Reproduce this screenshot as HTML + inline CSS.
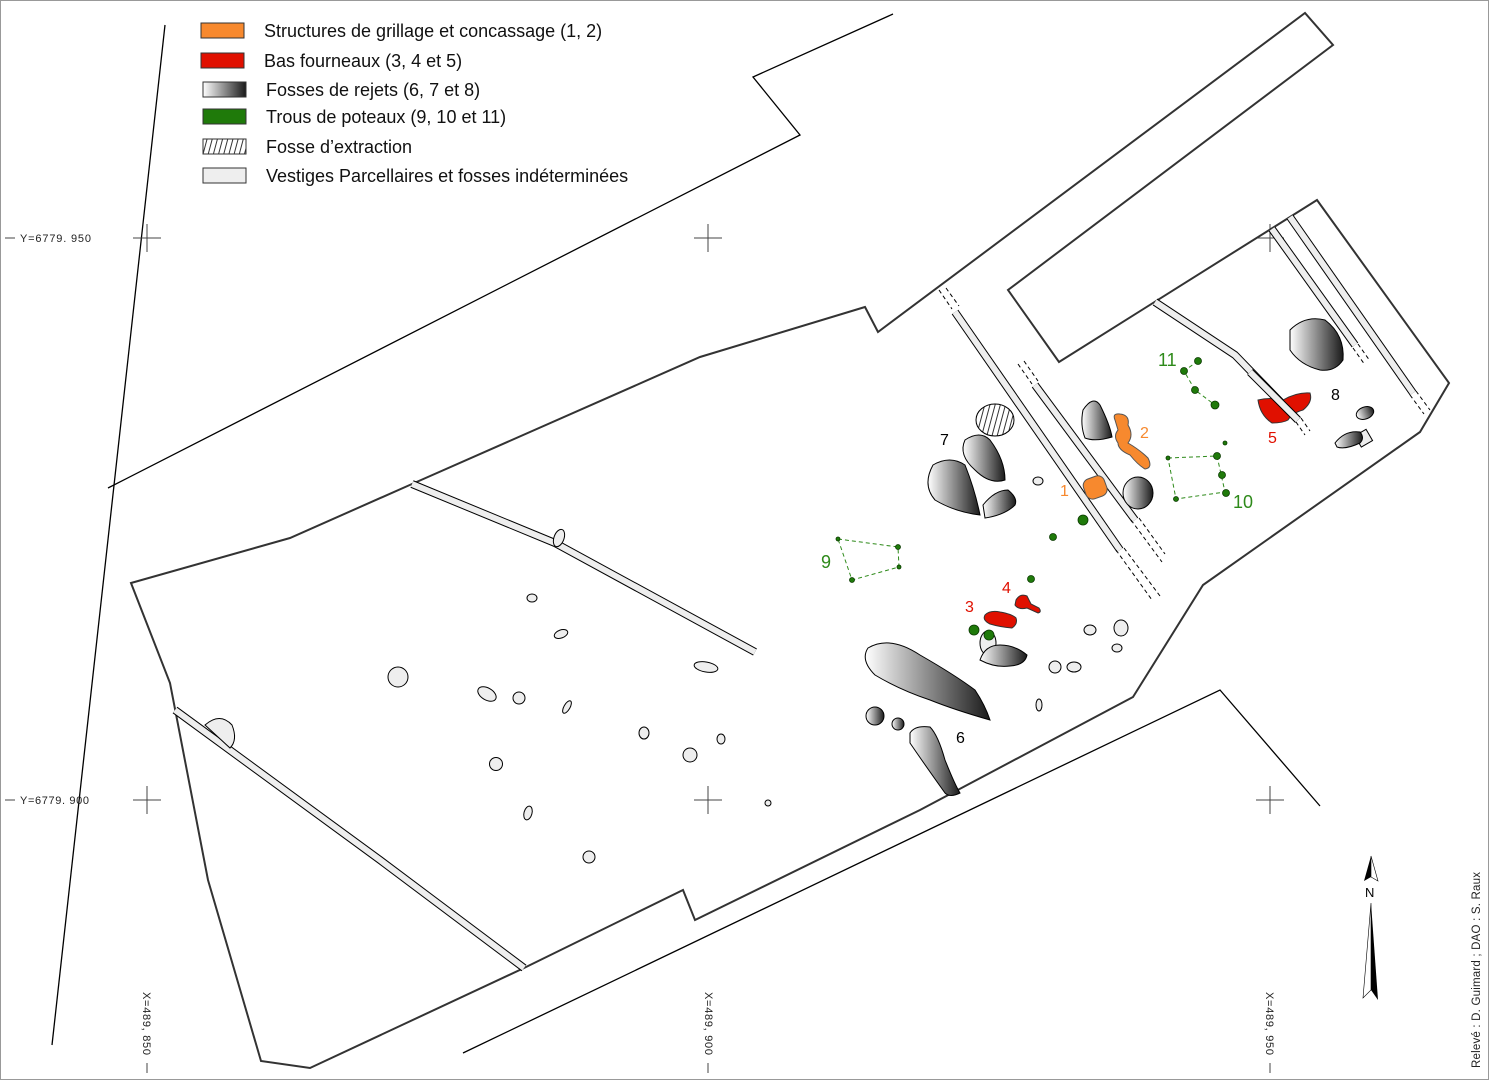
<!DOCTYPE html>
<html><head><meta charset="utf-8"><style>
html,body{margin:0;padding:0;background:#fff}
svg{display:block}
text{font-family:"Liberation Sans","DejaVu Sans",sans-serif}
</style></head><body>
<svg width="1489" height="1080" viewBox="0 0 1489 1080" xmlns="http://www.w3.org/2000/svg">
<defs>
<linearGradient id="g" x1="0" y1="0" x2="1" y2="0"><stop offset="0" stop-color="#fff"/><stop offset="1" stop-color="#1a1a1a"/></linearGradient>
<pattern id="h" width="5" height="8" patternUnits="userSpaceOnUse" patternTransform="rotate(15)"><line x1="1" y1="0" x2="1" y2="8" stroke="#000" stroke-width="0.8"/></pattern>
</defs>
<rect x="0.5" y="0.5" width="1488" height="1079" fill="#fff" stroke="#999"/>

<!-- legend -->
<g stroke="#333" stroke-width="1">
<rect x="201" y="23" width="43" height="15" fill="#f7892e"/>
<rect x="201" y="53" width="43" height="15" fill="#e01000"/>
<rect x="203" y="82" width="43" height="15" fill="url(#g)"/>
<rect x="203" y="109" width="43" height="15" fill="#1f7a0a"/>
<rect x="203" y="139" width="43" height="15" fill="url(#h)"/>
<rect x="203" y="168" width="43" height="15" fill="#eee"/>
</g>
<g font-size="18" fill="#111">
<text x="264" y="37">Structures de grillage et concassage (1, 2)</text>
<text x="264" y="67">Bas fourneaux (3, 4 et 5)</text>
<text x="266" y="96">Fosses de rejets (6, 7 et 8)</text>
<text x="266" y="123">Trous de poteaux (9, 10 et 11)</text>
<text x="266" y="153">Fosse d’extraction</text>
<text x="266" y="182">Vestiges Parcellaires et fosses indéterminées</text>
</g>

<!-- thin lines -->
<g fill="none" stroke="#000" stroke-width="1.3">
<line x1="165" y1="25" x2="52" y2="1045"/>
<polyline points="108,488 800,135 753,77 893,14"/>
<polyline points="463,1053 1220,690 1320,806"/>
</g>

<!-- crosses -->
<g stroke="#444" stroke-width="1">
<path d="M133 238h28M147 224v28M694 238h28M708 224v28M1256 238h28M1270 224v28M133 800h28M147 786v28M694 800h28M708 786v28M1256 800h28M1270 786v28"/>
<path d="M5 238h10M5 800h10M147 1063v10M708 1063v10M1270 1063v10"/>
</g>
<g font-size="11" fill="#222">
<text x="20" y="242" textLength="71">Y=6779. 950</text>
<text x="20" y="804" textLength="69">Y=6779. 900</text>
<text transform="translate(143,992) rotate(90)" textLength="63">X=489, 850</text>
<text transform="translate(705,992) rotate(90)" textLength="63">X=489, 900</text>
<text transform="translate(1266,992) rotate(90)" textLength="63">X=489, 950</text>
<text transform="translate(1480,1068) rotate(-90)" font-size="11.5" textLength="196">Relevé : D. Guimard ; DAO : S. Raux</text>
</g>

<!-- site outline -->
<polygon points="131,583 290,538 412,484 700,357 865,307 878,332 1305,13 1333,45 1008,290 1059,362 1317,200 1449,383 1420,432 1203,585 1133,697 920,810 695,920 683,890 524,968 310,1068 261,1061 208,880 170,683" fill="none" stroke="#333" stroke-width="2"/>

<!-- trenches -->
<g fill="none" stroke-linejoin="round" stroke-linecap="butt">
<g stroke="#000" stroke-width="8">
<polyline points="412,484 555,543 755,652"/>
<polyline points="175,710 380,860 524,968"/>
<polyline points="955,312 1120,550"/>
<polyline points="1035,385 1135,520"/>
<polyline points="1155,302 1235,355 1298,420"/>
<polyline points="1272,229 1355,345"/>
<polyline points="1290,217 1413,393"/>
</g>
<g stroke="#eee" stroke-width="6">
<polyline points="412,484 555,543 755,652"/>
<polyline points="175,710 380,860 524,968"/>
<polyline points="955,312 1120,550"/>
<polyline points="1035,385 1135,520"/>
<polyline points="1155,302 1235,355 1298,420"/>
<polyline points="1272,229 1355,345"/>
<polyline points="1290,217 1413,393"/>
</g>
<g stroke="#000" stroke-width="1" stroke-dasharray="4,3">
<path d="M1116,550 L1152,600 M1124,548 L1160,596 M1131,520 L1162,562 M1139,518 L1165,554 M939,290 L952,309 M946,288 L959,306 M1018,364 L1032,384 M1024,361 L1038,381 M1296,422 L1305,435 M1301,418 L1310,431 M1353,348 L1365,365 M1358,344 L1370,361 M1410,395 L1424,414 M1416,391 L1430,410"/>
</g>
</g>

<!-- indeterminate features -->
<g fill="#eee" stroke="#000" stroke-width="1">
<circle cx="398" cy="677" r="10"/>
<path d="M205,725 Q220,712 232,725 Q238,740 230,748 Z"/>
<ellipse cx="487" cy="694" rx="10" ry="6" transform="rotate(30 487 694)"/>
<circle cx="519" cy="698" r="6"/>
<circle cx="496" cy="764" r="6.5"/>
<circle cx="589" cy="857" r="6"/>
<ellipse cx="528" cy="813" rx="4" ry="7" transform="rotate(15 528 813)"/>
<ellipse cx="567" cy="707" rx="3" ry="7" transform="rotate(30 567 707)"/>
<ellipse cx="532" cy="598" rx="5" ry="4"/>
<ellipse cx="561" cy="634" rx="7" ry="4" transform="rotate(-20 561 634)"/>
<ellipse cx="706" cy="667" rx="12" ry="5" transform="rotate(10 706 667)"/>
<ellipse cx="644" cy="733" rx="5" ry="6"/>
<ellipse cx="690" cy="755" rx="7" ry="7"/>
<ellipse cx="721" cy="739" rx="4" ry="5"/>
<circle cx="768" cy="803" r="3"/>
<ellipse cx="559" cy="538" rx="5" ry="9" transform="rotate(20 559 538)"/>
<ellipse cx="1038" cy="481" rx="5" ry="4"/>
<ellipse cx="1090" cy="630" rx="6" ry="5"/>
<ellipse cx="1121" cy="628" rx="7" ry="8"/>
<ellipse cx="1117" cy="648" rx="5" ry="4"/>
<ellipse cx="1055" cy="667" rx="6" ry="6"/>
<ellipse cx="1074" cy="667" rx="7" ry="5"/>
<ellipse cx="1039" cy="705" rx="3" ry="6"/>
<ellipse cx="988" cy="643" rx="8" ry="12"/>
<rect x="1357" y="432" width="13" height="13" transform="rotate(-30 1363 438)"/>
</g>

<!-- hatched extraction pit -->
<ellipse cx="995" cy="420" rx="19" ry="16" fill="url(#h)" stroke="#000" stroke-width="1"/>

<!-- rejection pits (gradient) -->
<g fill="url(#g)" stroke="#000" stroke-width="1">
<path d="M933,465 Q950,455 965,465 Q975,490 980,515 Q955,512 935,500 Q922,485 933,465 Z"/>
<path d="M965,440 Q980,430 990,440 Q1005,460 1005,480 Q990,485 975,470 Q958,455 965,440 Z"/>
<path d="M983,505 Q995,490 1008,490 Q1018,498 1015,505 Q1005,515 985,518 Z"/>
<path d="M1083,410 Q1093,395 1100,405 Q1110,425 1112,437 Q1095,442 1085,438 Q1080,425 1083,410 Z"/>
<ellipse cx="1138" cy="493" rx="15" ry="16"/>
<path d="M868,648 Q890,635 920,655 Q955,675 975,690 Q985,705 990,720 Q955,710 930,700 Q900,690 875,675 Q860,660 868,648 Z"/>
<path d="M980,660 Q985,645 1000,645 Q1015,645 1027,655 Q1025,665 1010,666 Q995,668 980,660 Z"/>
<ellipse cx="875" cy="716" rx="9" ry="9"/>
<ellipse cx="898" cy="724" rx="6" ry="6"/>
<path d="M910,733 Q915,725 930,727 Q938,735 945,760 Q955,785 960,793 Q950,798 945,793 Q925,765 910,743 Z"/>
<path d="M1290,330 Q1305,315 1325,320 Q1345,335 1343,360 Q1335,372 1320,370 Q1300,365 1290,350 Z"/>
<ellipse cx="1365" cy="413" rx="9" ry="6" transform="rotate(-20 1365 413)"/>
<path d="M1335,443 Q1345,430 1360,432 Q1365,438 1360,443 Q1345,450 1337,447 Z"/>
</g>

<!-- orange -->
<g fill="#f7892e" stroke="#555" stroke-width="1">
<rect x="1084" y="477" width="22" height="21" rx="7" transform="rotate(-20 1095 487)"/>
<path d="M1115,420 Q1112,413 1120,414 Q1130,415 1128,425 Q1134,435 1128,443 Q1140,450 1148,458 Q1153,468 1145,469 Q1138,465 1130,455 Q1118,450 1118,443 Q1113,436 1118,430 Z"/>
</g>
<g font-size="16" fill="#f7892e"><text x="1060" y="496">1</text><text x="1140" y="438">2</text></g>

<!-- red -->
<g fill="#e01000" stroke="#333" stroke-width="1">
<path d="M985,615 Q990,610 1000,612 Q1012,614 1016,618 Q1018,624 1012,628 Q1000,627 990,624 Q982,620 985,615 Z"/>
<path d="M1016,600 Q1020,593 1027,596 Q1030,602 1031,604 L1039,608 Q1042,612 1038,613 L1027,608 Q1018,610 1015,605 Z"/>
<path d="M1258,400 Q1270,397 1283,400 Q1297,392 1310,393 Q1313,402 1303,410 Q1292,413 1288,420 Q1283,423 1272,423 Q1260,415 1258,400 Z"/>
</g>
<g fill="none"><polyline points="1250,372 1298,420" stroke="#000" stroke-width="8"/><polyline points="1250,372 1298,420" stroke="#eee" stroke-width="6"/></g>
<g font-size="16" fill="#e01000"><text x="965" y="612">3</text><text x="1002" y="593">4</text><text x="1268" y="443">5</text></g>

<!-- posts -->
<g fill="none" stroke="#2e8a1a" stroke-width="1" stroke-dasharray="4,3">
<polygon points="838,539 898,547 899,567 852,580"/>
<polyline points="1198,361 1184,371 1195,390 1215,405"/>
<polygon points="1168,458 1217,456 1225,492 1176,499"/>
</g>
<g fill="#1f7a0a" stroke="#0a3a00" stroke-width="0.8">
<circle cx="838" cy="539" r="2"/><circle cx="898" cy="547" r="2.5"/><circle cx="899" cy="567" r="2"/><circle cx="852" cy="580" r="2.5"/>
<circle cx="1198" cy="361" r="3.5"/><circle cx="1184" cy="371" r="3.5"/><circle cx="1195" cy="390" r="3.5"/><circle cx="1215" cy="405" r="4"/>
<circle cx="1168" cy="458" r="2"/><circle cx="1217" cy="456" r="3.5"/><circle cx="1222" cy="475" r="3.5"/><circle cx="1226" cy="493" r="3.5"/><circle cx="1176" cy="499" r="2.5"/><circle cx="1225" cy="443" r="2"/>
<circle cx="1083" cy="520" r="5"/><circle cx="1053" cy="537" r="3.5"/><circle cx="1031" cy="579" r="3.5"/>
<circle cx="974" cy="630" r="5"/><circle cx="989" cy="635" r="5"/>
</g>
<g font-size="18" fill="#2e8a1a"><text x="821" y="568">9</text><text x="1233" y="508">10</text><text x="1158" y="366">11</text></g>

<g font-size="16" fill="#000"><text x="940" y="445">7</text><text x="956" y="743">6</text><text x="1331" y="400">8</text></g>

<!-- north arrow -->
<polygon points="1371,856 1364,881 1371,877" fill="#000"/>
<polygon points="1371,856 1378,881 1371,877" fill="#fff" stroke="#000" stroke-width="0.6"/>
<text x="1365" y="897" font-size="13" fill="#000">N</text>
<polygon points="1371,903 1363,998 1371,990" fill="#fff" stroke="#000" stroke-width="0.6"/>
<polygon points="1371,903 1378,1000 1371,990" fill="#000"/>
</svg>
</body></html>
